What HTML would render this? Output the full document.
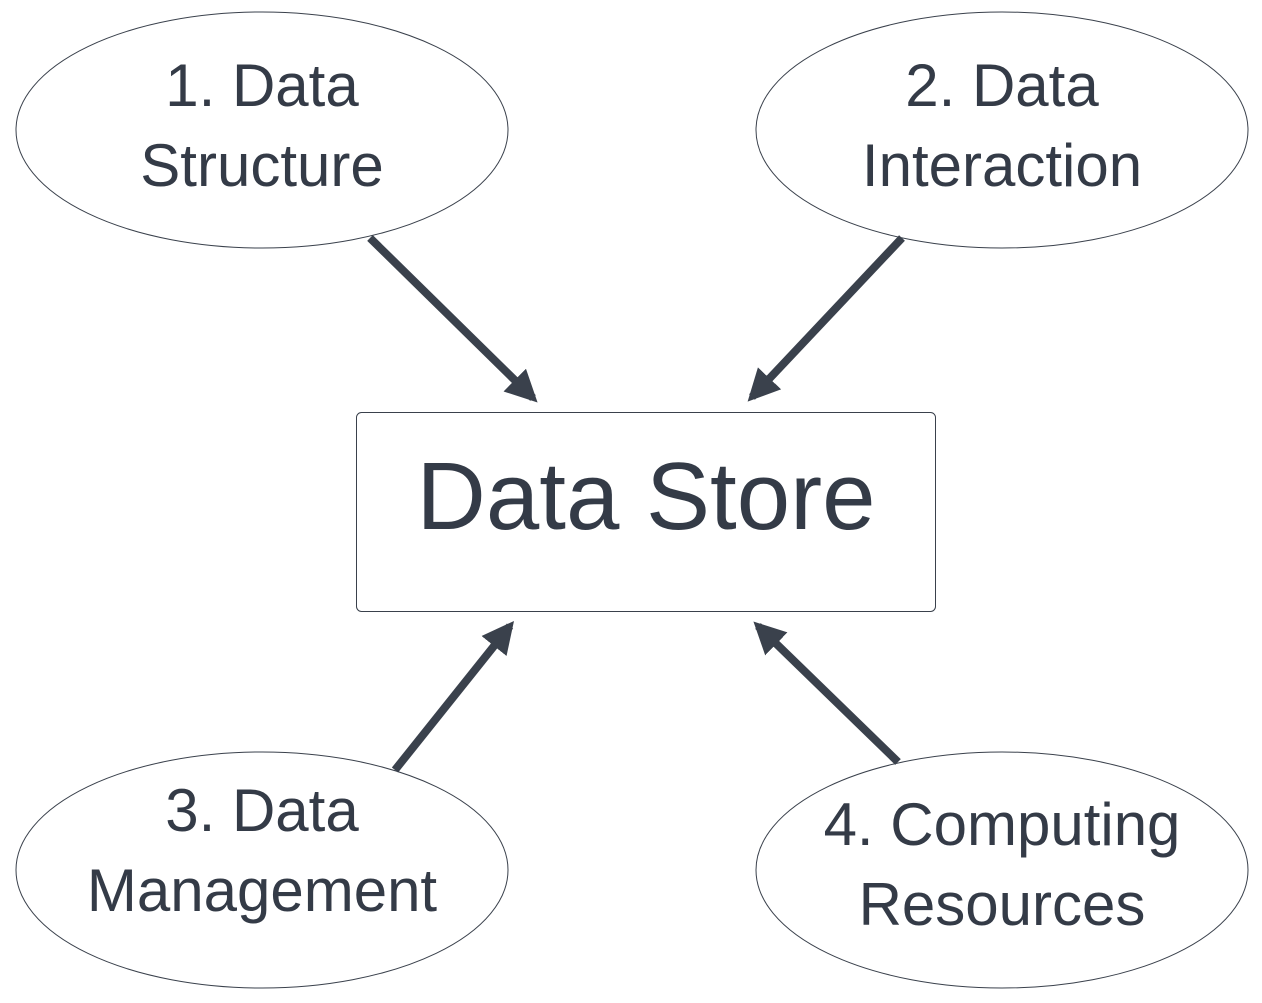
<!DOCTYPE html>
<html><head><meta charset="utf-8"><style>
html,body{margin:0;padding:0;background:#fff;}
svg{display:block;}
text{font-family:"Liberation Sans",sans-serif;fill:#343b47;text-anchor:middle;}
</style></head><body>
<svg width="1262" height="1003" viewBox="0 0 1262 1003" xmlns="http://www.w3.org/2000/svg">
<defs>
<marker id="ah" markerWidth="4" markerHeight="4" refX="3.2" refY="2" orient="auto" markerUnits="strokeWidth">
<path d="M0,0 L4,2 L0,4 Z" fill="#3a414c"/>
</marker>
</defs>
<g fill="#fff" stroke="#3a414c" stroke-width="1">
<ellipse cx="262" cy="130" rx="246" ry="118"/>
<ellipse cx="1002" cy="130" rx="246" ry="118"/>
<ellipse cx="262" cy="870" rx="246" ry="118"/>
<ellipse cx="1002" cy="870" rx="246" ry="118"/>
<rect x="356.5" y="412.5" width="579" height="199" rx="5"/>
</g>
<g stroke="#3a414c" stroke-width="8" fill="none" marker-end="url(#ah)">
<line x1="370" y1="238" x2="533" y2="398"/>
<line x1="902" y1="238" x2="752" y2="397"/>
<line x1="395" y1="770" x2="510" y2="626"/>
<line x1="898" y1="762" x2="758" y2="626"/>
</g>
<g font-size="60">
<text x="262" y="106">1. Data</text>
<text x="262" y="186">Structure</text>
<text x="1002" y="106">2. Data</text>
<text x="1002" y="186">Interaction</text>
<text x="262" y="831">3. Data</text>
<text x="262" y="911">Management</text>
<text x="1002" y="845">4. Computing</text>
<text x="1002" y="925">Resources</text>
</g>
<text x="646" y="529" font-size="96">Data Store</text>
</svg>
</body></html>
